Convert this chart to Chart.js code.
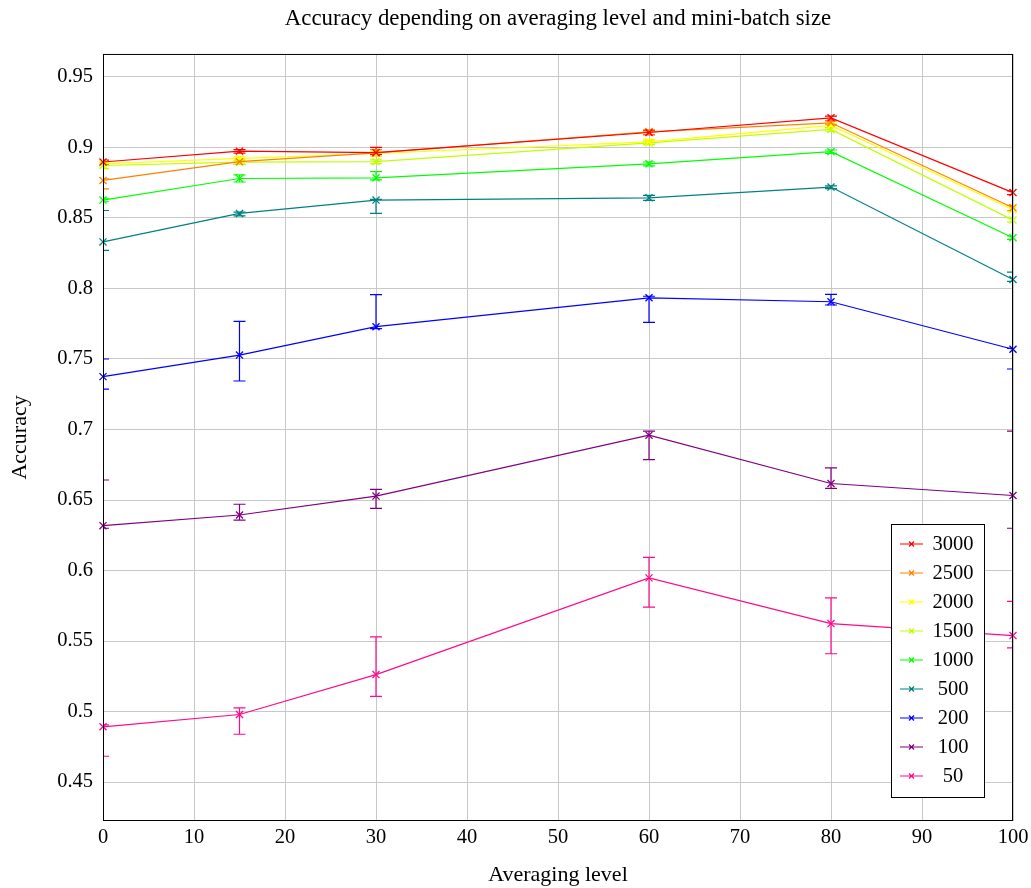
<!DOCTYPE html>
<html>
<head>
<meta charset="utf-8">
<script src="https://cdn.jsdelivr.net/npm/chart.js@4.4.1/dist/chart.umd.min.js"></script>
<style>
  html, body { margin: 0; padding: 0; background: #fff; }
  #wrap { width: 1031px; height: 888px; }
</style>
</head>
<body>
<div id="wrap"><canvas id="chart"></canvas></div>
<script>
// averaging levels (x)
const levels = [0, 15, 30, 60, 80, 100];
const xTicks = [0, 10, 20, 30, 40, 50, 60, 70, 80, 90, 100];
const yTicks = [0.45, 0.5, 0.55, 0.6, 0.65, 0.7, 0.75, 0.8, 0.85, 0.9, 0.95];

// mini-batch size labels
const batchSizes = ['3000', '2500', '2000', '1500', '1000', '500', '200', '100', '50'];

// mean accuracy, with lower / upper error bounds
const acc3000 = [0.8897, 0.8974, 0.8963, 0.9106, 0.9210, 0.8680];
const lo3000  = [0.8880, 0.8960, 0.8950, 0.9090, 0.9190, 0.8665];
const hi3000  = [0.8910, 0.8985, 0.9000, 0.9120, 0.9222, 0.8692];

const acc2500 = [0.8766, 0.8899, 0.8962, 0.9111, 0.9175, 0.8573];
const lo2500  = [0.8707, 0.8880, 0.8940, 0.9090, 0.9160, 0.8550];
const hi2500  = [0.8778, 0.8920, 0.8985, 0.9125, 0.9190, 0.8590];

const acc2000 = [0.8884, 0.8922, 0.8957, 0.9040, 0.9156, 0.8560];
const lo2000  = [0.8870, 0.8905, 0.8940, 0.9025, 0.9140, 0.8545];
const hi2000  = [0.8895, 0.8935, 0.8970, 0.9055, 0.9170, 0.8575];

const acc1500 = [0.8872, 0.8896, 0.8899, 0.9033, 0.9128, 0.8485];
const lo1500  = [0.8850, 0.8880, 0.8885, 0.9020, 0.9115, 0.8470];
const hi1500  = [0.8885, 0.8910, 0.8912, 0.9045, 0.9140, 0.8500];

const acc1000 = [0.8627, 0.8780, 0.8785, 0.8884, 0.8970, 0.8360];
const lo1000  = [0.8615, 0.8755, 0.8770, 0.8870, 0.8958, 0.8348];
const hi1000  = [0.8640, 0.8805, 0.8828, 0.8897, 0.8982, 0.8372];

const acc500  = [0.8330, 0.8532, 0.8627, 0.8643, 0.8719, 0.8064];
const lo500   = [0.8270, 0.8515, 0.8532, 0.8625, 0.8708, 0.8050];
const hi500   = [0.8553, 0.8542, 0.8632, 0.8660, 0.8728, 0.8116];

const acc200  = [0.7375, 0.7528, 0.7729, 0.7934, 0.7906, 0.7569];
const lo200   = [0.7287, 0.7344, 0.7715, 0.7760, 0.7883, 0.7429];
const hi200   = [0.7500, 0.7767, 0.7956, 0.7945, 0.7958, 0.7575];

const acc100  = [0.6318, 0.6394, 0.6528, 0.6960, 0.6617, 0.6532];
const lo100   = [0.6300, 0.6358, 0.6441, 0.6787, 0.6582, 0.6300];
const hi100   = [0.6642, 0.6470, 0.6576, 0.6988, 0.6728, 0.6988];

const acc50   = [0.4892, 0.4979, 0.5262, 0.5948, 0.5624, 0.5539];
const lo50    = [0.4683, 0.4839, 0.5108, 0.5740, 0.5410, 0.5452];
const hi50    = [0.4905, 0.5026, 0.5530, 0.6094, 0.5806, 0.5782];

const means = [acc3000, acc2500, acc2000, acc1500, acc1000, acc500, acc200, acc100, acc50];
const lows  = [lo3000, lo2500, lo2000, lo1500, lo1000, lo500, lo200, lo100, lo50];
const highs = [hi3000, hi2500, hi2000, hi1500, hi1000, hi500, hi200, hi100, hi50];

const COLORS = ['#ff0000', '#ff8000', '#ffff00', '#bfff00', '#00ff00', '#008080', '#0000ff', '#800080', '#ff0a8c'];
const FONT = '"Liberation Serif", "DejaVu Serif", serif';

const errorBars = {
    id: 'errorBars',
    beforeDatasetsDraw(chart) {
        const { ctx, chartArea, scales: { x, y } } = chart;
        ctx.save();
        ctx.beginPath();
        ctx.rect(chartArea.left, chartArea.top, chartArea.width, chartArea.height);
        ctx.clip();
        ctx.lineWidth = 1.2;
        chart.data.datasets.forEach((ds, i) => {
            ctx.strokeStyle = ds.borderColor;
            levels.forEach((lv, j) => {
                const px = x.getPixelForValue(lv);
                const y1 = y.getPixelForValue(lows[i][j]);
                const y2 = y.getPixelForValue(highs[i][j]);
                ctx.beginPath();
                ctx.moveTo(px, y1); ctx.lineTo(px, y2);
                ctx.moveTo(px - 6, y1); ctx.lineTo(px + 6, y1);
                ctx.moveTo(px - 6, y2); ctx.lineTo(px + 6, y2);
                ctx.stroke();
            });
        });
        ctx.restore();
    },
    afterDraw(chart) {
        const { ctx, chartArea } = chart;
        ctx.save();
        // axis frame
        ctx.strokeStyle = '#000';
        ctx.lineWidth = 1;
        ctx.strokeRect(chartArea.left + 0.5, chartArea.top + 0.5, chartArea.width - 1, chartArea.height - 1);

        // legend box, bottom right inside the plot
        const w = 93, h = 273;
        const bx = chartArea.right - 29 - w, by = chartArea.bottom - 24 - h;
        ctx.fillStyle = '#fff';
        ctx.fillRect(bx, by, w, h);
        ctx.strokeRect(bx + 0.5, by + 0.5, w, h);
        ctx.font = '20.5px ' + FONT;
        ctx.textAlign = 'center';
        ctx.textBaseline = 'middle';
        chart.data.datasets.forEach((ds, i) => {
            const ry = by + 20 + i * 29;
            ctx.strokeStyle = ds.borderColor;
            ctx.lineWidth = 1.2;
            ctx.beginPath();
            ctx.moveTo(bx + 9, ry); ctx.lineTo(bx + 32, ry);
            ctx.moveTo(bx + 18, ry - 2.5); ctx.lineTo(bx + 23, ry + 2.5);
            ctx.moveTo(bx + 18, ry + 2.5); ctx.lineTo(bx + 23, ry - 2.5);
            ctx.stroke();
            ctx.fillStyle = '#000';
            ctx.fillText(ds.label, bx + 62, ry + 1);
        });
        ctx.restore();
    },
};

new Chart(document.getElementById('chart'), {
    type: 'line',
    data: {
        datasets: batchSizes.map((label, i) => ({
            label,
            data: levels.map((lv, j) => ({ x: lv, y: means[i][j] })),
            borderColor: COLORS[i],
            backgroundColor: COLORS[i],
            borderWidth: 1.2,
            pointStyle: 'crossRot',
            pointRadius: 5,
            pointBorderWidth: 1.3,
            pointHoverRadius: 5,
            tension: 0,
            clip: false,
        })),
    },
    options: {
        responsive: true,
        maintainAspectRatio: false,
        animation: false,
        layout: { padding: { left: 0, right: 18, top: 0, bottom: 0 } },
        scales: {
            x: {
                type: 'linear',
                min: 0,
                max: 100,
                afterBuildTicks: (s) => { s.ticks = xTicks.map((v) => ({ value: v })); },
                afterFit: (s) => { s.height = 67; s.paddingLeft = 0; s.paddingRight = 0; },
                grid: { color: '#c8c8c8', lineWidth: 1, drawTicks: false },
                border: { display: false },
                ticks: { color: '#000', font: { family: FONT, size: 20.5 }, padding: 4, maxRotation: 0 },
                title: { display: true, text: 'Averaging level', color: '#000', font: { family: FONT, size: 22 }, padding: { top: 0, bottom: 0 } },
            },
            y: {
                min: 0.4224,
                max: 0.9663,
                afterBuildTicks: (s) => { s.ticks = yTicks.map((v) => ({ value: v })); },
                afterFit: (s) => { s.width = 103; },
                grid: { color: '#c8c8c8', lineWidth: 1, drawTicks: false },
                border: { display: false },
                ticks: {
                    color: '#000',
                    font: { family: FONT, size: 20.5 },
                    padding: 10,
                    callback: (v) => String(Math.round(v * 100) / 100),
                },
                title: { display: true, text: 'Accuracy', color: '#000', font: { family: FONT, size: 22 }, padding: { top: 7, bottom: 0 } },
            },
        },
        plugins: {
            legend: { display: false },
            tooltip: { enabled: false },
            title: {
                display: true,
                fullSize: false,
                text: 'Accuracy depending on averaging level and mini-batch size',
                color: '#000',
                font: { family: FONT, size: 22.8, weight: 'normal' },
                padding: { top: 5, bottom: 21.6 },
            },
        },
    },
    plugins: [errorBars],
});
</script>
</body>
</html>
